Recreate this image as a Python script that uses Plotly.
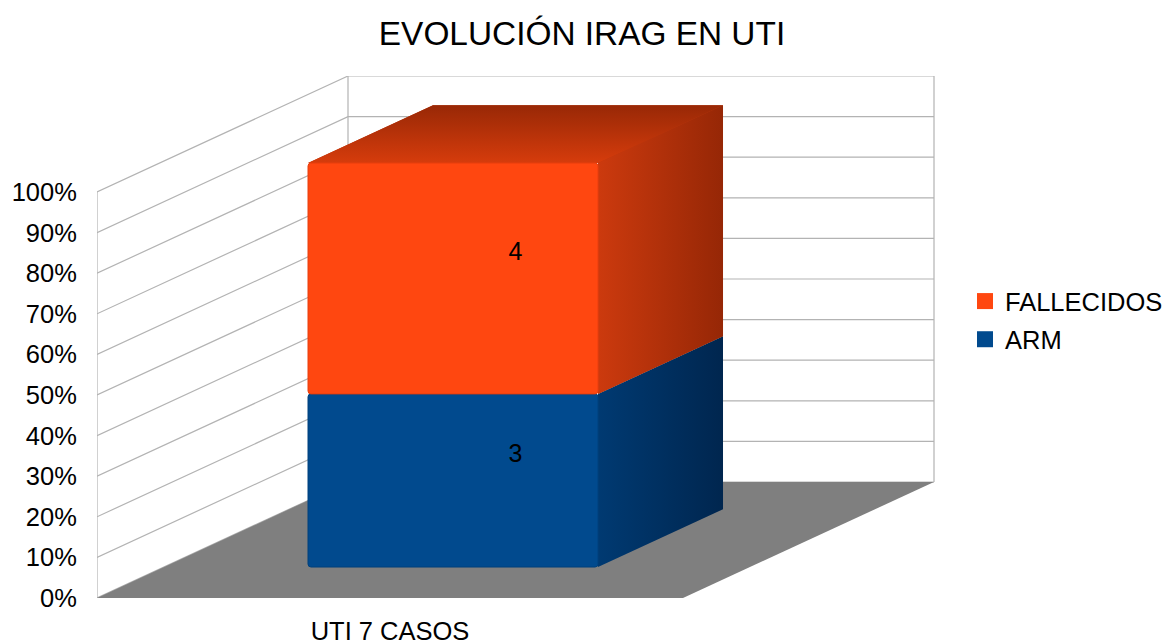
import plotly.graph_objects as go

TITLE = "EVOLUCIÓN IRAG EN UTI"
CATEGORY = "UTI 7 CASOS"
SERIES = ["ARM", "FALLECIDOS"]
COUNTS = [3, 4]
TICKS = [0, 10, 20, 30, 40, 50, 60, 70, 80, 90, 100]
TICK_LABELS = ["0%", "10%", "20%", "30%", "40%", "50%", "60%", "70%", "80%", "90%", "100%"]
FRONT = ["#014a8e", "#ff4710"]
EDGE = ["#01417c", "#e83f0e"]
SIDE = [["#003a72", "#00264f"], ["#cc3a0e", "#962706"]]
TOP = ["#d63c0c", "#982806"]
BACKING = "#b8340a"
FONT = "Liberation Sans"

# pixel geometry of the oblique projection
W, H = 1166, 642
L, R, T, B = 97, 936, 76, 598
FW = 586            # front floor width
PCT = 4.06          # px per percent
DX, DY = 251, 116   # shift from front plane to back wall
BAR_D0, BAR_D1 = 0.267, 0.765
BAR_X0, BAR_X1 = 0.2457, 0.7406
BAR_SCALE = 0.995   # the solid stops just short of the 100% plane
LABEL_DROP = 1.0    # percent


def px(c, p, d):
    """category unit, percent, depth (0-1) -> data coordinates"""
    return c + d * DX / FW, p + d * DY / PCT


def poly(points):
    xs, ys = zip(*[px(*q) for q in points + points[:1]])
    return list(xs), list(ys)


total = sum(COUNTS)
pct = [v / total * 100 * BAR_SCALE for v in COUNTS]
bases = [sum(pct[:i]) for i in range(len(pct))]

fig = go.Figure()

# walls' grid lines
gx, gy = [], []
for t in TICKS:
    for q in [(0, t, 0), (0, t, 1), (1, t, 1)]:
        a, b = px(*q)
        gx.append(a)
        gy.append(b)
    gx.append(None)
    gy.append(None)
for q0, q1 in [((0, 0, 0), (0, 100, 0)), ((0, 0, 1), (0, 100, 1)), ((1, 0, 1), (1, 100, 1)), ((0, 0, 0), (1, 0, 0))]:
    for q in (q0, q1):
        a, b = px(*q)
        gx.append(a)
        gy.append(b)
    gx.append(None)
    gy.append(None)
fig.add_trace(go.Scatter(x=gx, y=gy, mode="lines", line=dict(color="#b3b3b3", width=1.2),
                         showlegend=False, hoverinfo="skip", cliponaxis=False))

# floor
fx, fy = poly([(0, 0, 0), (1, 0, 0), (1, 0, 1), (0, 0, 1)])
fig.add_trace(go.Scatter(x=fx, y=fy, mode="none", fill="toself", fillcolor="#7f7f7f",
                         showlegend=False, hoverinfo="skip"))

# backing under the orange top and side, so no light seam shows between the fills
top_pct = sum(pct)
hx, hy = poly([(BAR_X0, top_pct, BAR_D0), (BAR_X1, top_pct, BAR_D0), (BAR_X1, bases[1], BAR_D0),
               (BAR_X1, bases[1], BAR_D1), (BAR_X1, top_pct, BAR_D1), (BAR_X0, top_pct, BAR_D1)])
fig.add_trace(go.Scatter(x=hx, y=hy, mode="none", fill="toself", fillcolor=BACKING,
                         showlegend=False, hoverinfo="skip"))

# bar sides and top
for i in range(len(pct)):
    b0, b1 = bases[i], bases[i] + pct[i]
    sx, sy = poly([(BAR_X1, b0, BAR_D0), (BAR_X1, b0, BAR_D1), (BAR_X1, b1, BAR_D1), (BAR_X1, b1, BAR_D0)])
    fig.add_trace(go.Scatter(
        x=sx, y=sy, mode="none", fill="toself", showlegend=False, hoverinfo="skip",
        fillgradient=dict(type="horizontal", colorscale=[[0, SIDE[i][0]], [1, SIDE[i][1]]]),
    ))
tx, ty = poly([(BAR_X0, top_pct, BAR_D0), (BAR_X1, top_pct, BAR_D0), (BAR_X1, top_pct, BAR_D1), (BAR_X0, top_pct, BAR_D1)])
fig.add_trace(go.Scatter(
    x=tx, y=ty, mode="none", fill="toself", showlegend=False, hoverinfo="skip",
    fillgradient=dict(type="vertical", colorscale=[[0, TOP[0]], [1, TOP[1]]]),
))

# bar fronts on an overlaying pair of axes so they sit above the fills
cx, shift = px((BAR_X0 + BAR_X1) / 2, 0, BAR_D0)
for i in range(len(pct)):
    fig.add_trace(go.Bar(
        x=[cx], y=[pct[i]], base=[bases[i] + shift], width=BAR_X1 - BAR_X0,
        marker=dict(color=FRONT[i], line=dict(width=1, color=EDGE[i]), cornerradius=3),
        showlegend=False, hoverinfo="skip", xaxis="x2", yaxis="y2",
    ))

# value labels at box centres
for i in range(len(pct)):
    lx, ly = px((BAR_X0 + BAR_X1) / 2, bases[i] + pct[i] / 2 - LABEL_DROP, (BAR_D0 + BAR_D1) / 2)
    fig.add_trace(go.Scatter(x=[lx], y=[ly], mode="text", text=[str(COUNTS[i])],
                             textfont=dict(family=FONT, size=25, color="#000000"),
                             showlegend=False, hoverinfo="skip", xaxis="x2", yaxis="y2"))

# legend entries
for i in reversed(range(len(SERIES))):
    fig.add_trace(go.Scatter(x=[None], y=[None], mode="markers", name=SERIES[i],
                             legendgroup=SERIES[i],
                             marker=dict(symbol="square", size=16, color=FRONT[i])))

xr = [0, (R - L) / FW]
yr = [0, (B - T) / PCT]
PW = W - L  # width of the margin-free paper box
dom = [0, (R - L) / PW]
fig.update_layout(
    width=W, height=H, autosize=False,
    margin=dict(l=L, r=0, t=T, b=H - B, autoexpand=False),
    paper_bgcolor="#ffffff", plot_bgcolor="#ffffff",
    barmode="overlay",
    font=dict(family=FONT, size=25.5, color="#000000"),
    title=dict(text=TITLE, font=dict(family=FONT, size=33.4, color="#000000"),
               x=582 / W, xref="container", xanchor="center", y=1 - 33 / H, yref="container", yanchor="middle"),
    xaxis=dict(domain=dom, range=xr, tickvals=[0.5], ticktext=[CATEGORY], showgrid=False, zeroline=False, showline=False,
               ticks="outside", ticklen=10, tickcolor="rgba(0,0,0,0)", tickfont=dict(family=FONT, size=25.5),
               fixedrange=True, automargin=False),
    yaxis=dict(range=yr, tickvals=TICKS, ticktext=TICK_LABELS, showgrid=False, zeroline=False, showline=False,
               ticks="outside", ticklen=14, tickcolor="rgba(0,0,0,0)", tickfont=dict(family=FONT, size=25.5),
               fixedrange=True, automargin=False),
    xaxis2=dict(domain=dom, range=xr, overlaying="x", visible=False, fixedrange=True),
    yaxis2=dict(range=yr, overlaying="y", visible=False, fixedrange=True),
    legend=dict(x=(965 - L) / PW, xanchor="left", y=(B - 320.5) / (B - T), yanchor="middle",
                font=dict(family=FONT, size=25.5), itemwidth=30, tracegroupgap=2,
                bgcolor="rgba(0,0,0,0)", borderwidth=0),
)
fig.write_html("out.html", config={"displayModeBar": False},
               post_script="document.body.style.margin='0';document.documentElement.style.overflow='hidden';")
